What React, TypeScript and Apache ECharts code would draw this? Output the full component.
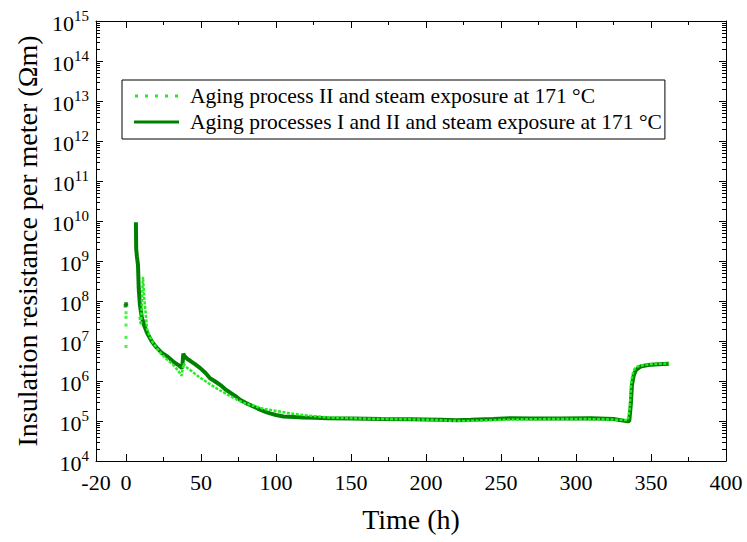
import React, { useEffect, useRef } from "react";
import * as echarts from "echarts";

// ---- data ----
const seriesNames = [
  "Aging process II and steam exposure at 171 °C",
  "Aging processes I and II and steam exposure at 171 °C",
];

// Aging processes I and II (dark green)
const darkStartTime = [-0.4, 0, 0.3];
const darkStartValue = [7.6e7, 8.5e7, 8e7];
const darkTime = [
  6.6, 6.8, 7.3, 8.0, 8.5, 9.3, 10.5, 12, 14, 17, 20, 24, 28, 32, 35, 37.5, 38.2, 39, 41, 43, 46,
  49.5, 53, 56, 59, 63, 66, 69.5, 73, 76, 80, 83, 86, 89, 93, 96, 100, 105, 112, 118, 126, 134, 150, 170, 190, 210,
  220, 230, 245, 256, 270, 290, 310, 325, 334.5, 335.5, 336.5, 337.3, 338.5, 340, 343, 348, 355, 362,
];
const darkValue = [
  9.3e9, 2e9, 1.26e9, 7.9e8, 2e8, 7.9e7, 4e7, 2.5e7, 1.6e7, 1e7, 7.1e6, 5e6, 4e6, 2.95e6, 2.5e6,
  2.1e6, 4.8e6, 4.2e6, 3.55e6, 3.16e6, 2.63e6, 2.1e6, 1.58e6, 1.17e6, 1e6, 7.9e5, 6.3e5, 5.1e5, 4.2e5, 3.4e5, 2.8e5,
  2.5e5, 2.2e5, 1.95e5, 1.7e5, 1.55e5, 1.41e5, 1.29e5, 1.26e5, 1.23e5, 1.2e5, 1.17e5, 1.15e5, 1.12e5, 1.1e5, 1.07e5,
  1.05e5, 1.07e5, 1.12e5, 1.17e5, 1.15e5, 1.15e5, 1.17e5, 1.12e5, 9.8e4, 1e5, 2.5e5, 7.9e5, 1.4e6, 1.9e6, 2.3e6,
  2.5e6, 2.63e6, 2.7e6,
];

// Aging process II (light green)
const lightStartTime = [0, 0, 0, 0, 0];
const lightStartValue = [7.3e6, 1.23e7, 2.5e7, 3.9e7, 5.1e7];
const lightTime = [
  9, 10, 11.3, 12.3, 13, 14, 16, 18, 20, 23, 27, 31, 35, 37, 38.4, 40, 43, 47, 51.6, 56, 62, 68, 74, 79, 85, 92, 100,
  108, 118, 126, 134, 150, 170, 190, 205, 215, 225, 235, 250, 265, 285, 305, 320, 334.5, 335.8, 336.7, 337.5, 339,
  341, 345, 350, 356, 362,
];
const lightValue = [
  4e7, 2.5e7, 4e8, 1e8, 5.6e7, 2e7, 1.26e7, 8.9e6, 7.1e6, 5e6, 3.55e6, 2.63e6, 1.78e6, 1.35e6, 2.75e6, 2.24e6,
  1.86e6, 1.41e6, 1.07e6, 8.3e5, 6e5, 4.5e5, 3.4e5, 2.8e5, 2.4e5, 2e5, 1.78e5, 1.58e5, 1.41e5, 1.32e5, 1.23e5,
  1.17e5, 1.12e5, 1.1e5, 1.07e5, 1.02e5, 1e5, 1.02e5, 1.07e5, 1.1e5, 1.12e5, 1.12e5, 1.1e5, 1.05e5, 2e5, 7.9e5,
  1.41e6, 2e6, 2.3e6, 2.5e6, 2.63e6, 2.7e6, 2.75e6,
];

const xLabelValues = [-20, 0, 50, 100, 150, 200, 250, 300, 350, 400];
const xMajorTicks = [0, 50, 100, 150, 200, 250, 300, 350, 400];
const xMinorTicks = [25, 75, 125, 175, 225, 275, 325, 375];
const yExponents = [4, 5, 6, 7, 8, 9, 10, 11, 12, 13, 14, 15];
const yMinorMultipliers = [2, 3, 4, 5, 6, 7, 8, 9];

const X_MIN = -20;
const X_MAX = 400;
const Y_MIN = 1e4;
const Y_MAX = 1e15;

const FONT = "Liberation Serif";
const DARK = "#008000";
const LIGHT = "#22ee22";

const DOTTED_ICON = "path://M0,0h3v3h-3z M10,0h3v3h-3z M20,0h3v3h-3z M30,0h3v3h-3z M40,0h3v3h-3z";
const SOLID_ICON = "path://M0,0h45v3h-45z";

export default function App() {
  const ref = useRef<HTMLDivElement>(null);

  useEffect(() => {
    if (!ref.current) return;
    const chart = echarts.init(ref.current, undefined, { renderer: "svg" });

    // nudge boundary values a hair inside the extent so they are not filtered out
    const inside = (v: number) => (v >= Y_MAX ? v * (1 - 1e-9) : v <= Y_MIN ? v * (1 + 1e-9) : v);
    const yMajor = yExponents.map((e) => inside(Math.pow(10, e)));
    const yMinor: number[] = [];
    yExponents.slice(0, -1).forEach((e) => {
      yMinorMultipliers.forEach((m) => yMinor.push(m * Math.pow(10, e)));
    });

    const pair = (ts: number[], vs: number[]) => ts.map((t, i) => [t, vs[i]]);

    const xBase = (position: "bottom" | "top", ticks: number[], len: number, main: boolean) => ({
      type: "value",
      position,
      min: X_MIN,
      max: X_MAX,
      axisLine: { show: main, onZero: false, lineStyle: { color: "#000", width: 1 } },
      axisTick: { show: true, inside: true, length: len, customValues: ticks, lineStyle: { color: "#000", width: 1 } },
      axisLabel:
        main && position === "bottom"
          ? {
              show: true,
              customValues: xLabelValues,
              color: "#000",
              fontFamily: FONT,
              fontSize: 22,
              margin: 10,
            }
          : { show: false },
      splitLine: { show: false },
    });

    const yBase = (position: "left" | "right", ticks: number[], len: number, main: boolean) => ({
      type: "log",
      logBase: 10,
      position,
      min: Y_MIN,
      max: Y_MAX,
      axisLine: { show: main, onZero: false, lineStyle: { color: "#000", width: 1 } },
      axisTick: { show: true, inside: true, length: len, customValues: ticks, lineStyle: { color: "#000", width: 1 } },
      axisLabel:
        main && position === "left"
          ? {
              show: true,
              customValues: yMajor,
              margin: 7,
              formatter: (v: number) => `{b|10}{s|${Math.round(Math.log10(v))}}`,
              rich: {
                b: { fontFamily: FONT, fontSize: 22, color: "#000", lineHeight: 26, verticalAlign: "bottom" },
                s: { fontFamily: FONT, fontSize: 15, color: "#000", lineHeight: 26, verticalAlign: "top" },
              },
            }
          : { show: false },
      splitLine: { show: false },
    });

    const xAxes: any[] = [
      { ...xBase("bottom", xMajorTicks, 7, true), name: "Time (h)", nameLocation: "middle", nameGap: 44, nameTextStyle: { fontFamily: FONT, fontSize: 28, color: "#000" } },
      xBase("bottom", xMinorTicks, 4, false),
      xBase("top", xMajorTicks, 7, true),
      xBase("top", xMinorTicks, 4, false),
    ];
    const yAxes: any[] = [
      {
        ...yBase("left", yMajor, 7, true),
        name: "Insulation resistance per meter (Ωm)",
        nameLocation: "middle",
        nameGap: 50,
        nameTextStyle: { fontFamily: FONT, fontSize: 28, color: "#000" },
      },
      yBase("left", yMinor, 4, false),
      yBase("right", yMajor, 7, true),
      yBase("right", yMinor, 4, false),
    ];

    chart.setOption({
      animation: false,
      backgroundColor: "#fff",
      grid: { left: 96, right: 21, top: 21, bottom: 81, containLabel: false },
      xAxis: xAxes,
      yAxis: yAxes,
      legend: {
        show: true,
        orient: "vertical",
        left: 122,
        top: 80,
        padding: [4, 3, 5, 12],
        itemGap: 2,
        itemWidth: 45,
        itemHeight: 3,
        borderColor: "#000",
        borderWidth: 1,
        backgroundColor: "#fff",
        selectedMode: false,
        textStyle: { fontFamily: FONT, fontSize: 21.5, color: "#000", lineHeight: 24, padding: [0, 0, 0, 6] },
        data: [
          { name: seriesNames[0], icon: DOTTED_ICON, itemStyle: { color: LIGHT } },
          { name: seriesNames[1], icon: SOLID_ICON, itemStyle: { color: DARK } },
        ],
      },
      series: [
        {
          name: seriesNames[1],
          type: "line",
          xAxisIndex: 0,
          yAxisIndex: 0,
          data: pair(darkTime, darkValue),
          symbol: "none",
          showSymbol: false,
          z: 2,
          lineStyle: { color: DARK, width: 4 },
          itemStyle: { color: DARK },
        },
        {
          name: "darkStart",
          type: "scatter",
          xAxisIndex: 0,
          yAxisIndex: 0,
          data: pair(darkStartTime, darkStartValue),
          symbol: "rect",
          symbolSize: 3.5,
          z: 2,
          itemStyle: { color: DARK },
        },
        {
          name: seriesNames[0],
          type: "line",
          xAxisIndex: 0,
          yAxisIndex: 0,
          data: pair(lightTime, lightValue),
          symbol: "none",
          showSymbol: false,
          z: 3,
          lineStyle: { color: LIGHT, width: 2.5, type: [3, 1.5] },
          itemStyle: { color: LIGHT },
        },
        {
          name: "lightStart",
          type: "scatter",
          xAxisIndex: 0,
          yAxisIndex: 0,
          data: pair(lightStartTime, lightStartValue),
          symbol: "rect",
          symbolSize: 3,
          z: 3,
          itemStyle: { color: LIGHT },
        },
      ],
    });

    return () => chart.dispose();
  }, []);

  return (
    <div
      ref={ref}
      style={{ position: "fixed", left: 0, top: 0, width: 747, height: 542, background: "#fff" }}
    />
  );
}
